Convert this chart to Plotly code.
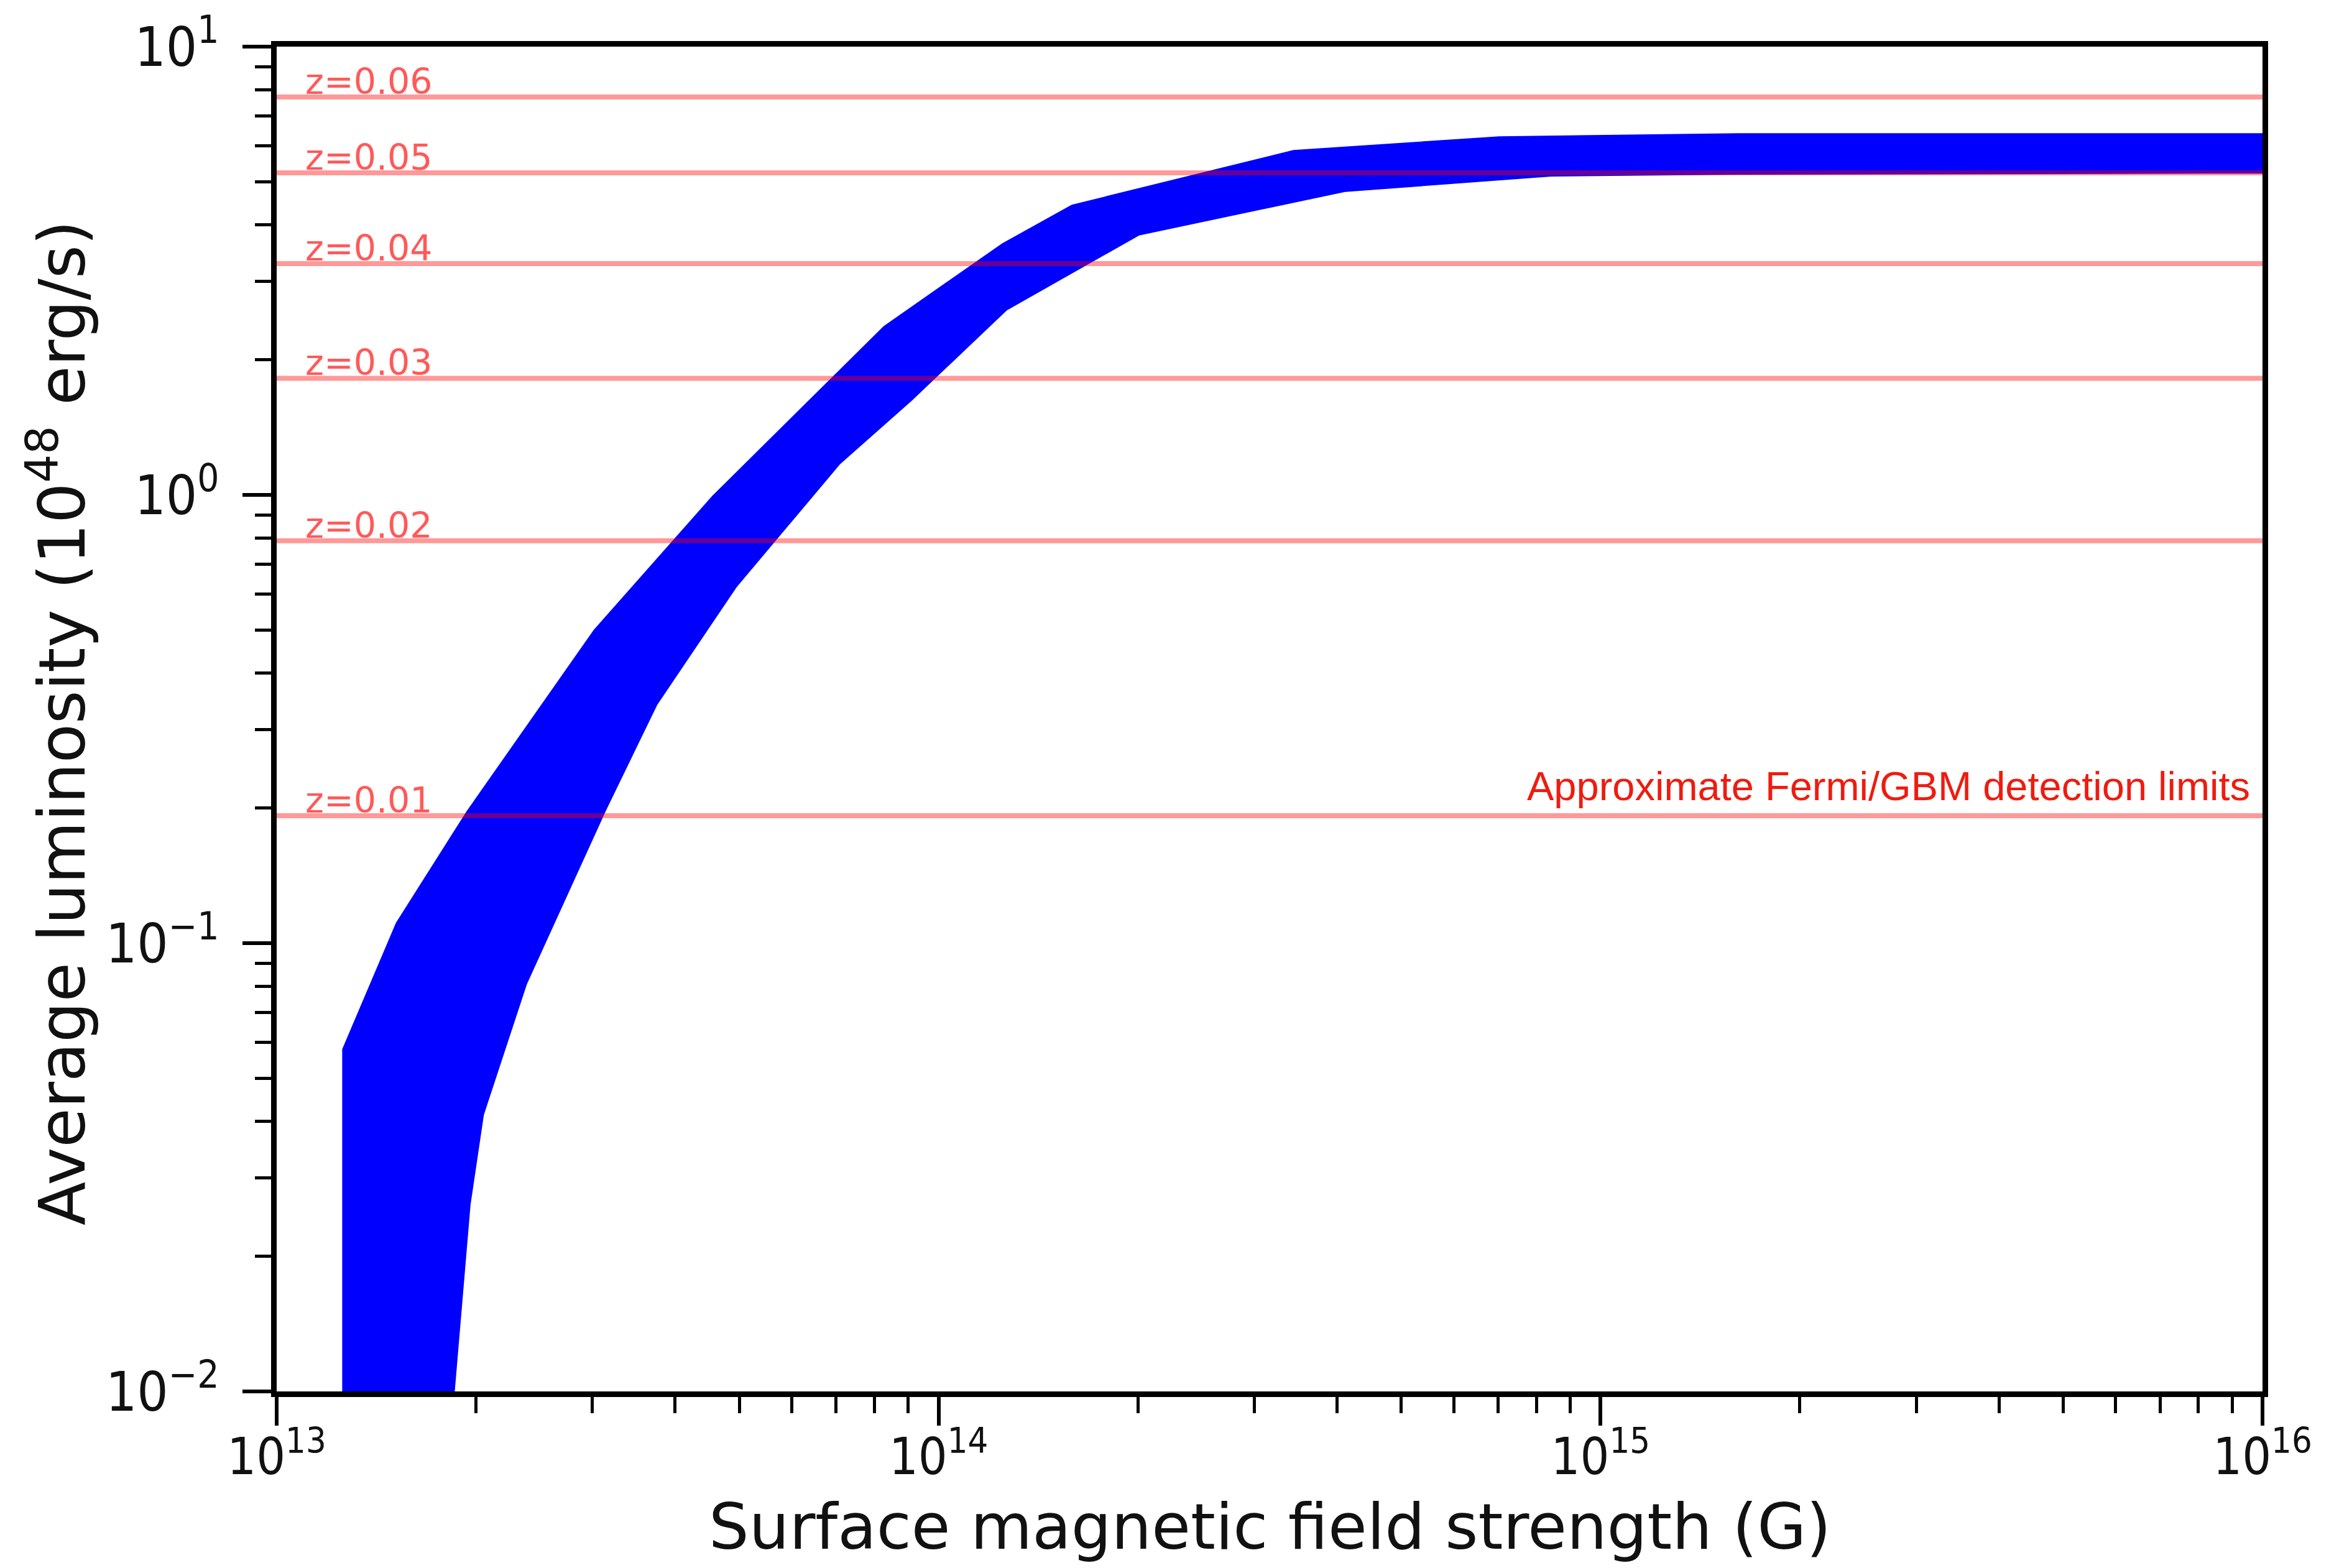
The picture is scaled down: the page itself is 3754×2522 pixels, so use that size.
import math
import plotly.graph_objects as go

# Upper envelope of the luminosity band (field strength in G, luminosity in 1e48 erg/s)
b_upper = [1.256e13, 1.514e13, 1.936e13, 3.013e13, 4.55e13, 8.26e13, 1.247e14,
           1.589e14, 3.436e14, 7.03e14, 1.629e15, 1e16]
l_upper = [0.058, 0.111, 0.197, 0.50, 0.995, 2.38, 3.64, 4.44, 5.88, 6.31, 6.41, 6.41]

# Lower envelope of the band
b_lower = [1.858e13, 1.963e13, 2.056e13, 2.388e13, 3.141e13, 3.758e13, 4.955e13,
           7.096e13, 9.10e13, 1.268e14, 2.009e14, 4.111e14, 8.414e14, 1.629e15, 1e16]
l_lower = [0.01, 0.0261, 0.0414, 0.081, 0.197, 0.340, 0.623, 1.17, 1.62, 2.58,
           3.79, 4.74, 5.13, 5.18, 5.21]

# Fermi/GBM detection thresholds at each redshift
redshifts = ["z=0.01", "z=0.02", "z=0.03", "z=0.04", "z=0.05", "z=0.06"]
thresholds = [0.1925, 0.79, 1.82, 3.28, 5.23, 7.72]

x_tickvals = [1e13, 1e14, 1e15, 1e16]
x_ticktext = ["10<sup>13</sup>", "10<sup>14</sup>", "10<sup>15</sup>", "10<sup>16</sup>"]
y_tickvals = [1e-2, 1e-1, 1e0, 1e1]
y_ticktext = ["10<sup>−2</sup>", "10<sup>−1</sup>", "10<sup>0</sup>", "10<sup>1</sup>"]

x_range = [1e13, 1e16]
y_floor = 0.01

W, H = 3754, 2522
ML, MR, MT, MB = 445, 115, 64, 284

fig = go.Figure()

# Filled band: upper edge left-to-right, lower edge back, down to the axis floor
band_x = b_upper + b_lower[::-1] + [b_upper[0]]
band_y = l_upper + l_lower[::-1] + [y_floor]
fig.add_trace(go.Scatter(
    x=band_x, y=band_y, mode="lines", fill="toself",
    fillcolor="#0000ff", line=dict(width=0, color="#0000ff"),
    hoverinfo="skip", showlegend=False,
))

# Horizontal detection limits
for name, val in zip(redshifts, thresholds):
    fig.add_trace(go.Scatter(
        x=x_range, y=[val, val], mode="lines",
        line=dict(color="rgba(255,0,0,0.4)", width=8),
        hoverinfo="skip", showlegend=False, name=name,
    ))

label_font = "DejaVu Sans"
annotations = []
for name, val in zip(redshifts, thresholds):
    annotations.append(dict(
        x=math.log10(1.1e13), y=math.log10(val), xref="x", yref="y",
        text=name, showarrow=False, xanchor="left", yanchor="bottom", yshift=-10,
        font=dict(family=label_font, size=57, color="rgba(255,0,0,0.65)"),
    ))

annotations.append(dict(
    x=math.log10(9.62e15), y=math.log10(thresholds[0]), xref="x", yref="y",
    text="Approximate Fermi/GBM detection limits", showarrow=False,
    xanchor="right", yanchor="bottom", yshift=9,
    font=dict(family="Liberation Sans, Arial, sans-serif", size=65, color="#ee1c10"),
))

# Axis titles
annotations.append(dict(
    x=0.5, y=-0.072, xref="paper", yref="paper",
    text="Surface magnetic field strength (G)", showarrow=False,
    xanchor="center", yanchor="top",
    font=dict(family="DejaVu Sans", size=102, color="#111111"),
))
annotations.append(dict(
    x=-0.1102, y=0.497, xref="paper", yref="paper",
    text="Average luminosity (10<sup>48</sup> erg/s)", showarrow=False,
    xanchor="center", yanchor="middle", textangle=-90,
    font=dict(family="DejaVu Sans", size=103, color="#111111"),
))

tick_family = "DejaVu Sans Condensed, Liberation Sans Narrow, DejaVu Sans"

x_minor = [k * 10 ** e for e in (13, 14, 15) for k in range(2, 10)]
y_minor = [k * 10.0 ** e for e in (-2, -1, 0) for k in range(2, 10)]

axis_common = dict(
    showline=True, linecolor="black", linewidth=9, mirror=True,
    ticks="outside", ticklen=46, tickwidth=6, tickcolor="black",
    showgrid=False, zeroline=False,
)

fig.update_xaxes(
    type="log", range=[13, 16], tickvals=x_tickvals, ticktext=x_ticktext,
    tickfont=dict(family=tick_family, size=82, color="#111111"),
    ticklabelstandoff=-20,
    minor=dict(tickvals=x_minor, ticks="outside", ticklen=26, tickwidth=5,
               tickcolor="black", showgrid=False),
    **axis_common,
)
fig.update_yaxes(
    type="log", range=[-2, 1], tickvals=y_tickvals, ticktext=y_ticktext,
    tickfont=dict(family=tick_family, size=88, color="#111111"),
    ticklabelstandoff=20,
    minor=dict(tickvals=y_minor, ticks="outside", ticklen=26, tickwidth=5,
               tickcolor="black", showgrid=False),
    **axis_common,
)

fig.update_layout(
    width=W, height=H, autosize=False,
    margin=dict(l=ML, r=MR, t=MT, b=MB, pad=0),
    paper_bgcolor="white", plot_bgcolor="white",
    annotations=annotations, showlegend=False,
)

fig.write_html("out.html")
